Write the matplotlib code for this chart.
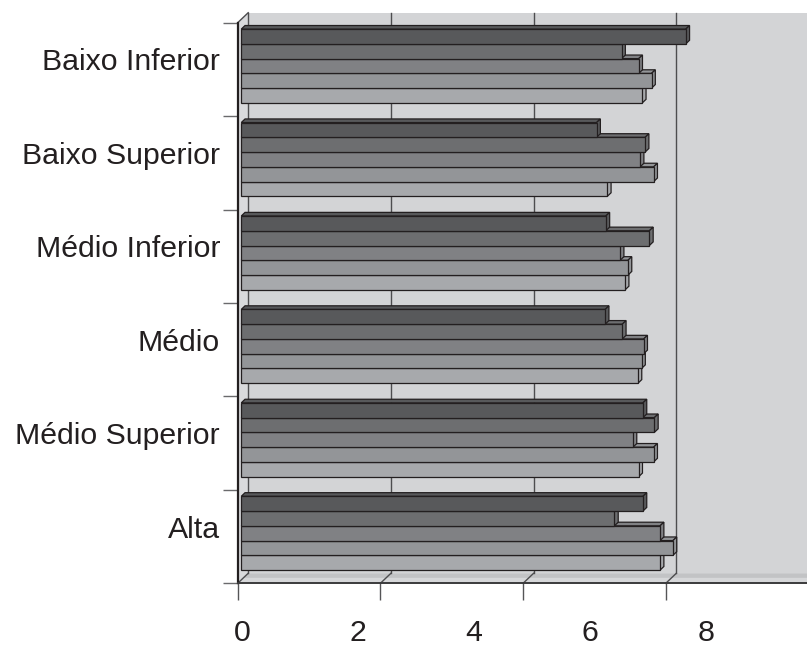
import matplotlib
matplotlib.use("Agg")
import matplotlib.pyplot as plt
from matplotlib.patches import Polygon
import numpy as np

plt.rcParams['font.family'] = ['Liberation Sans', 'DejaVu Sans']

# categorias de cima para baixo e as cinco séries de cada grupo (série 1 no topo)
categorias = ['Baixo Inferior', 'Baixo Superior', 'Médio Inferior',
              'Médio', 'Médio Superior', 'Alta']
serie_1 = [6.23, 4.98, 5.11, 5.10, 5.63, 5.63]
serie_2 = [5.33, 5.66, 5.72, 5.34, 5.79, 5.23]
serie_3 = [5.57, 5.59, 5.31, 5.64, 5.49, 5.87]
serie_4 = [5.75, 5.78, 5.42, 5.61, 5.78, 6.05]
serie_5 = [5.62, 5.13, 5.38, 5.56, 5.57, 5.87]
rotulos_x = ['0', '2', '4', '6', '8']

cores = ['#58595b', '#6d6e70', '#808184', '#939598', '#a7a9ac']
cor_parede = '#d3d4d6'
cor_linha = '#4d4d4f'
cor_texto = '#231f20'

W, H = 807, 646
fig = plt.figure(figsize=(W / 100, H / 100), dpi=100)
ax = fig.add_axes([237.7 / W, 62.7 / H, 569.3 / W, 560.6 / H])

px_x = 71.35           # pixels por unidade no plano da frente
px_y = 560.6 / 6
XMAX = 569.3 / px_x
n_cat = len(categorias)
ax.set_xlim(0, XMAX)
ax.set_ylim(0, n_cat)
ax.set_facecolor('none')

# deslocamento oblíquo da profundidade total (frente -> parede do fundo)
DX = 10.5 / px_x
DY = 10.0 / px_y


def proj(x, y, d):
    return (x + d * DX, y + d * DY)


def poly(pts, **kw):
    p = Polygon(pts, closed=True, clip_on=False, **kw)
    ax.add_patch(p)
    return p


far = XMAX + 2
# parede do fundo, parede lateral e piso
poly([proj(0, 0, 1), proj(far, 0, 1), proj(far, n_cat, 1), proj(0, n_cat, 1)],
     facecolor=cor_parede, edgecolor='none', zorder=1)
poly([proj(0, 0, 0), proj(0, 0, 1), proj(0, n_cat, 1), proj(0, n_cat, 0)],
     facecolor='#d9dadc', edgecolor='none', zorder=1)
poly([proj(0, 0, 0), proj(far, 0, 0), proj(far, 0, 1), proj(0, 0, 1)],
     facecolor='#d6d7d9', edgecolor='none', zorder=1)
poly([proj(0, 0, 0.55), proj(far, 0, 0.55), proj(far, 0, 1), proj(0, 0, 1)],
     facecolor='#c2c3c5', edgecolor='none', zorder=1)

# grade no fundo e no piso
for gx in [0, 2, 4, 6]:
    x0, y0 = proj(gx, 0, 1)
    ax.plot([x0, x0], [y0, n_cat + DY], color=cor_linha, lw=1.0, zorder=2, clip_on=False)
    a, b = proj(gx, 0, 0), proj(gx, 0, 1)
    ax.plot([a[0], b[0]], [a[1], b[1]], color=cor_linha, lw=1.0, zorder=2, clip_on=False)
a, b = proj(0, n_cat, 0), proj(0, n_cat, 1)
ax.plot([a[0], b[0]], [a[1], b[1]], color=cor_linha, lw=1.0, zorder=2, clip_on=False)

# barras 3D
series = [serie_1, serie_2, serie_3, serie_4, serie_5]
d1, d2 = 0.34, 0.70
grupo = 0.79
h = grupo / len(series)
for i in range(n_cat):
    base = n_cat - 1 - i + (1 - grupo) / 2
    for k in range(len(series) - 1, -1, -1):
        v = series[k][i]
        y0 = base + (len(series) - 1 - k) * h
        y1 = y0 + h
        c = cores[k]
        kw = dict(edgecolor='#231f20', linewidth=0.9, zorder=3 + (len(series) - k) * 0.01)
        poly([proj(0, y1, d1), proj(v, y1, d1), proj(v, y1, d2), proj(0, y1, d2)],
             facecolor=c, **kw)
        poly([proj(v, y0, d1), proj(v, y0, d2), proj(v, y1, d2), proj(v, y1, d1)],
             facecolor=c, **kw)
        poly([proj(0, y0, d1), proj(v, y0, d1), proj(v, y1, d1), proj(0, y1, d1)],
             facecolor=c, **kw)

# eixos da frente
for s in ['top', 'right']:
    ax.spines[s].set_visible(False)
ax.spines['left'].set_color('#231f20')
ax.spines['left'].set_linewidth(1.6)
ax.spines['bottom'].set_color('#3a3a3c')
ax.spines['bottom'].set_linewidth(1.4)
ax.spines['left'].set_zorder(5)
ax.spines['bottom'].set_zorder(5)

ax.set_xticks([0, 2, 4, 6])
ax.set_xticklabels([])
ax.tick_params(axis='x', which='major', direction='out', length=12.2, width=1.0,
               color='#555557')
ax.set_yticks(range(n_cat + 1))
ax.set_yticklabels([])
ax.tick_params(axis='y', which='major', direction='out', length=10.8, width=1.0,
               color='#6a6a6c')
ax.set_yticks([n_cat - 1 - i + 0.5 + DY for i in range(n_cat)], minor=True)
ax.set_yticklabels(categorias, minor=True, fontsize=21.8, color=cor_texto)
ax.tick_params(axis='y', which='minor', length=0, pad=12.7)

# rótulos numéricos do eixo x
sec = ax.secondary_xaxis('bottom', functions=(lambda x: (x * px_x - 4.3) / 58.0,
                                              lambda s: (s * 58.0 + 4.3) / px_x))
sec.set_xticks([0, 2, 4, 6, 8])
sec.set_xticklabels(rotulos_x, fontsize=21.8, color=cor_texto)
sec.tick_params(length=0, pad=26)
sec.spines['bottom'].set_visible(False)

fig.savefig('out.png', dpi=100)
